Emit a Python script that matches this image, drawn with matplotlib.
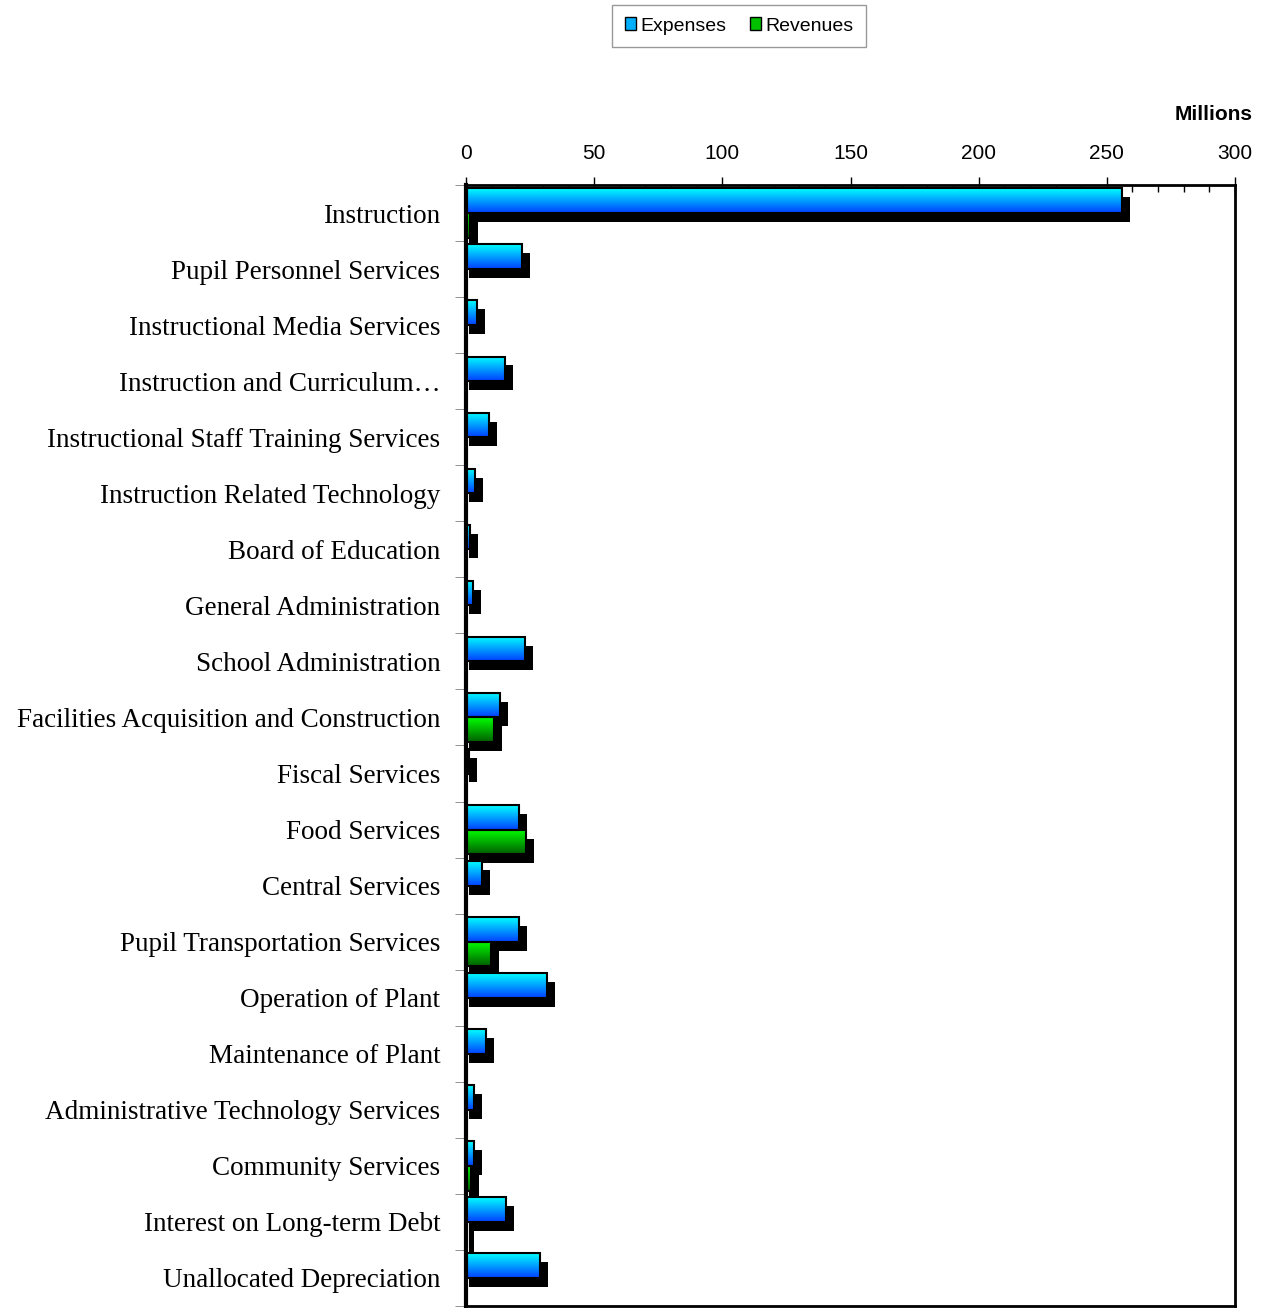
import numpy as np
import matplotlib
matplotlib.use("Agg")
import matplotlib.pyplot as plt
from matplotlib.colors import LinearSegmentedColormap
from matplotlib.patches import Patch

# data in millions
categories = ["Instruction", "Pupil Personnel Services", "Instructional Media Services",
              "Instruction and Curriculum…", "Instructional Staff Training Services",
              "Instruction Related Technology", "Board of Education", "General Administration",
              "School Administration", "Facilities Acquisition and Construction",
              "Fiscal Services", "Food Services", "Central Services",
              "Pupil Transportation Services", "Operation of Plant", "Maintenance of Plant",
              "Administrative Technology Services", "Community Services",
              "Interest on Long-term Debt", "Unallocated Depreciation"]
expenses = [256.0, 21.8, 4.3, 15.2, 9.0, 3.5, 1.4, 2.6, 23.0, 13.3,
            1.3, 20.7, 6.2, 20.7, 31.6, 7.8, 3.1, 3.1, 15.6, 28.9]
revenues = [1.4, 0.0, 0.0, 0.0, 0.0, 0.0, 0.0, 0.0, 0.0, 10.9,
            0.0, 23.4, 0.0, 9.8, 0.0, 0.0, 0.0, 1.9, 0.2, 0.0]

fig = plt.figure(figsize=(12.68, 13.08), dpi=100)
ax = fig.add_axes([466 / 1268, 2 / 1308, (1235 - 466) / 1268, (1306 - 185) / 1308])

blue_cm = LinearSegmentedColormap.from_list("b", ["#00ffff", "#0040ff"])
green_cm = LinearSegmentedColormap.from_list("g", ["#00ff00", "#006000"])
grad = np.linspace(0, 1, 64).reshape(-1, 1)

y = np.arange(len(categories))
h = 0.44
# shadow: shifted ~9px down, reaching ~8px past the bar end
sdx = 3.1   # data units (~8px)
sdy = 0.16  # band units (~9px)
sx0 = 1.0

for vals, off, cm in [(expenses, -0.22, blue_cm), (revenues, 0.22, green_cm)]:
    vals = np.array(vals)
    has = vals > 0
    ax.barh((y + off + sdy)[has], (vals + sdx - sx0)[has], left=sx0, height=h,
            color="black", linewidth=0, zorder=2)
    bars = ax.barh(y + off, vals, height=h, color="black", linewidth=0, zorder=2.5)
    for b, v, yy in zip(bars, vals, y + off):
        if v <= 0:
            continue
        im = ax.imshow(grad, cmap=cm, aspect="auto", origin="upper",
                       extent=[0, v, yy + h / 2, yy - h / 2], zorder=3)
        im.set_clip_path(b)
    ax.barh((y + off)[has], vals[has], height=h, facecolor="none", edgecolor="black",
            linewidth=1.5, zorder=4)

ax.set_xlim(0, 300)
ax.set_ylim(len(categories) - 0.5, -0.5)

ax.xaxis.tick_top()
ax.set_xticks(range(0, 301, 50))
ax.set_xticks(range(0, 301, 10), minor=True)
ax.tick_params(axis="x", which="major", direction="inout", length=12, width=1,
               labelsize=15, pad=10)
ax.tick_params(axis="x", which="minor", direction="in", length=5, width=1)
for lab in ax.get_xticklabels():
    lab.set_family("Liberation Sans")

ax.set_yticks(y)
ax.set_yticklabels(categories, family="Liberation Serif", fontsize=19.5)
ax.set_yticks(np.arange(-0.5, len(categories)), minor=True)
ax.tick_params(axis="y", which="major", length=0, pad=18.5)
ax.tick_params(axis="y", which="minor", length=8, color="gray", direction="out")

for s in ax.spines.values():
    s.set_linewidth(2)
    s.set_zorder(5)
ax.spines["left"].set_linewidth(3)

fig.text(1253 / 1268, 1 - 115 / 1308, "Millions", ha="right", va="center",
         fontsize=15, fontweight="bold", family="Liberation Sans")

handles = [Patch(facecolor="#00b0ff", edgecolor="black", label="Expenses"),
           Patch(facecolor="#00c000", edgecolor="black", label="Revenues")]
leg = fig.legend(handles=handles, loc="center", bbox_to_anchor=(739 / 1268, 1 - 26 / 1308),
                 ncol=2, frameon=True, fancybox=False, edgecolor="gray",
                 prop={"family": "Liberation Sans", "size": 14},
                 handlelength=0.6, handleheight=0.6, handletextpad=0.2, columnspacing=1.2,
                 borderpad=0.65, borderaxespad=0)
leg.get_frame().set_linewidth(1)

fig.savefig("out.png", dpi=100)
